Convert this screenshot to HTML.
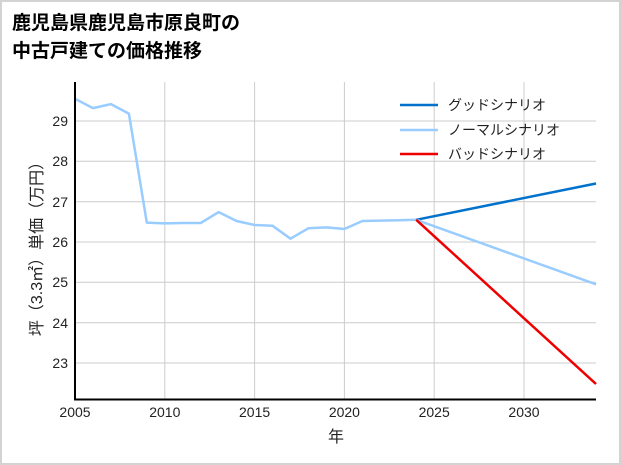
<!DOCTYPE html>
<html><head><meta charset="utf-8"><style>
body{margin:0;background:#fff}
svg{display:block}
text{font-family:"Liberation Sans","Noto Sans CJK JP",sans-serif;fill:#222}
</style></head><body>
<svg width="621" height="465" xmlns="http://www.w3.org/2000/svg">
<rect x="1" y="1" width="619" height="463" fill="#fff" stroke="#d3d3d3" stroke-width="2"/>
<text x="12" y="29" font-size="19" font-weight="bold" style="fill:#000">鹿児島県鹿児島市原良町の</text>
<text x="12" y="57" font-size="19" font-weight="bold" style="fill:#000">中古戸建ての価格推移</text>
<g stroke="#cccccc" stroke-width="1">
<line x1="164.8" y1="82" x2="164.8" y2="399"/><line x1="254.6" y1="82" x2="254.6" y2="399"/>
<line x1="344.4" y1="82" x2="344.4" y2="399"/><line x1="434.2" y1="82" x2="434.2" y2="399"/>
<line x1="524" y1="82" x2="524" y2="399"/>
<line x1="75" y1="121" x2="596" y2="121"/><line x1="75" y1="161.3" x2="596" y2="161.3"/>
<line x1="75" y1="201.7" x2="596" y2="201.7"/><line x1="75" y1="242" x2="596" y2="242"/>
<line x1="75" y1="282.3" x2="596" y2="282.3"/><line x1="75" y1="322.7" x2="596" y2="322.7"/>
<line x1="75" y1="363" x2="596" y2="363"/>
</g>
<g fill="none" stroke-width="2.5" stroke-linejoin="round">
<polyline stroke="#99ccff" points="75,98.8 93,108.1 110.9,104.1 128.9,113.7 146.8,222.6 164.8,223.4 182.8,223 200.7,223 218.7,212.1 236.6,221 254.6,225 272.6,225.8 290.5,238.7 308.5,228.2 326.4,227.4 344.4,229 362.4,221 380.3,220.6 398.3,220.2 416.2,219.8"/>
<line stroke="#0072cc" x1="416.2" y1="219.8" x2="596" y2="183.5"/>
<line stroke="#99ccff" x1="416.2" y1="219.8" x2="596" y2="284.3"/>
<line stroke="#ee0000" x1="416.2" y1="219.8" x2="596" y2="384"/>
</g>
<polyline points="75,82 75,399.5 596,399.5" fill="none" stroke="#000" stroke-width="2"/>
<g font-size="14" text-anchor="end">
<text x="68" y="126">29</text><text x="68" y="166">28</text><text x="68" y="207">27</text>
<text x="68" y="247">26</text><text x="68" y="287">25</text><text x="68" y="328">24</text><text x="68" y="368">23</text>
</g>
<g font-size="14" text-anchor="middle">
<text x="75" y="417">2005</text><text x="164.8" y="417">2010</text><text x="254.6" y="417">2015</text>
<text x="344.4" y="417">2020</text><text x="434.2" y="417">2025</text><text x="524" y="417">2030</text>
<text x="336" y="442" font-size="16">年</text>
</g>
<text transform="translate(42,245) rotate(-90)" font-size="16" text-anchor="middle">坪（3.3㎡）単価（万円）</text>
<g stroke-width="2.5">
<line x1="400" y1="105" x2="438" y2="105" stroke="#0072cc"/>
<line x1="400" y1="130" x2="438" y2="130" stroke="#99ccff"/>
<line x1="400" y1="154" x2="438" y2="154" stroke="#ee0000"/>
</g>
<g font-size="14">
<text x="448" y="110">グッドシナリオ</text>
<text x="448" y="135">ノーマルシナリオ</text>
<text x="448" y="159">バッドシナリオ</text>
</g>
</svg>
</body></html>
